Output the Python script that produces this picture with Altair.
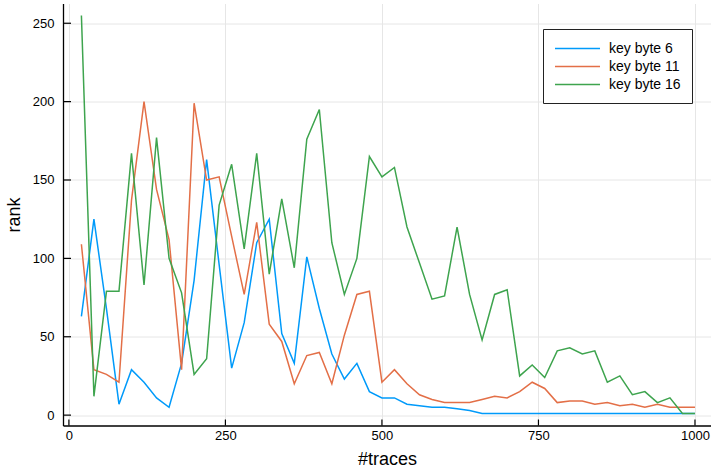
import altair as alt
import pandas as pd

traces = [20, 40, 60, 80, 100, 120, 140, 160, 180, 200,
          220, 240, 260, 280, 300, 320, 340, 360, 380, 400,
          420, 440, 460, 480, 500, 520, 540, 560, 580, 600,
          620, 640, 660, 680, 700, 720, 740, 760, 780, 800,
          820, 840, 860, 880, 900, 920, 940, 960, 980, 1000]

kb6 = [63, 125, 68, 7, 29, 21, 11, 5, 33, 86,
       163, 96, 30, 59, 110, 125, 52, 33, 101, 68,
       39, 23, 33, 15, 11, 11, 7, 6, 5, 5,
       4, 3, 1, 1, 1, 1, 1, 1, 1, 1,
       1, 1, 1, 1, 1, 1, 1, 1, 1, 1]

kb11 = [109, 29, 26, 21, 137, 200, 144, 112, 29, 199,
        150, 152, 114, 77, 123, 58, 47, 20, 38, 40,
        20, 51, 77, 79, 21, 29, 20, 13, 10, 8,
        8, 8, 10, 12, 11, 15, 21, 17, 8, 9,
        9, 7, 8, 6, 7, 5, 7, 5, 5, 5]

kb16 = [255, 12, 79, 79, 167, 83, 177, 100, 78, 26,
        36, 134, 160, 106, 167, 90, 138, 94, 176, 195,
        110, 77, 100, 165, 152, 158, 120, 97, 74, 76,
        120, 77, 48, 77, 80, 25, 32, 24, 41, 43,
        39, 41, 21, 25, 13, 15, 8, 11, 1, 1]

series_names = ["key byte 6", "key byte 11", "key byte 16"]
colors = ["#009AFA", "#E36F47", "#3EA44E"]
x_ticks = [0, 250, 500, 750, 1000]
y_ticks = [0, 50, 100, 150, 200, 250]

rows = []
for i, (name, vals) in enumerate(zip(series_names, [kb6, kb11, kb16])):
    for t, v in zip(traces, vals):
        rows.append({"traces": t, "rank": v, "series": name, "ord": i})
df = pd.DataFrame(rows)

W, H = 648, 422
FONT = "Liberation Sans"
xscale = alt.Scale(domain=[-9.4, 1025.6], nice=False, zero=False)
yscale = alt.Scale(domain=[-6.62, 262.6], nice=False, zero=False)
xaxis = alt.Axis(values=x_ticks, title="#traces", grid=True, ticks=False,
                 labelPadding=4, titlePadding=8, format="d")
yaxis = alt.Axis(values=y_ticks, title="rank", grid=True, ticks=False,
                 labelPadding=9, titlePadding=9, format="d")

lines = alt.Chart(df).mark_line(strokeWidth=1.5, clip=True).encode(
    x=alt.X("traces:Q", scale=xscale, axis=xaxis),
    y=alt.Y("rank:Q", scale=yscale, axis=yaxis),
    color=alt.Color("series:N",
                    scale=alt.Scale(domain=series_names, range=colors),
                    legend=alt.Legend(orient="none", legendX=480, legendY=25.5,
                                      title=None, symbolType="M-1,0H5",
                                      symbolSize=225, symbolStrokeWidth=1.5,
                                      labelFontSize=14, labelFont=FONT,
                                      labelColor="black", labelOffset=38,
                                      strokeColor="#222222", fillColor="white",
                                      padding=11, rowPadding=2)),
    detail="ord:N",
)

xt_df = pd.DataFrame({"v": x_ticks})
yt_df = pd.DataFrame({"v": y_ticks})

xticks = alt.Chart(xt_df).mark_rule(color="black", strokeWidth=1.2).encode(
    x=alt.X("v:Q", scale=xscale, axis=xaxis),
    y=alt.value(H), y2=alt.value(H - 6),
)
yticks = alt.Chart(yt_df).mark_rule(color="black", strokeWidth=1.2).encode(
    y=alt.Y("v:Q", scale=yscale, axis=yaxis),
    x=alt.value(0), x2=alt.value(8),
)

chart = alt.layer(lines, xticks, yticks).properties(
    width=W, height=H,
    padding={"left": 63, "top": 3.5, "right": 0, "bottom": 48.5},
    autosize=alt.AutoSizeParams(type="none"),
).configure_view(stroke=None).configure_axis(
    labelFont=FONT, labelFontSize=13, labelColor="black",
    titleFont=FONT, titleFontSize=18, titleFontWeight="normal", titleColor="black",
    domainColor="black", domainWidth=1.3,
    gridColor="#e6e6e6", gridWidth=1,
)

chart.save("out.html", embed_options={"renderer": "svg", "actions": False})
